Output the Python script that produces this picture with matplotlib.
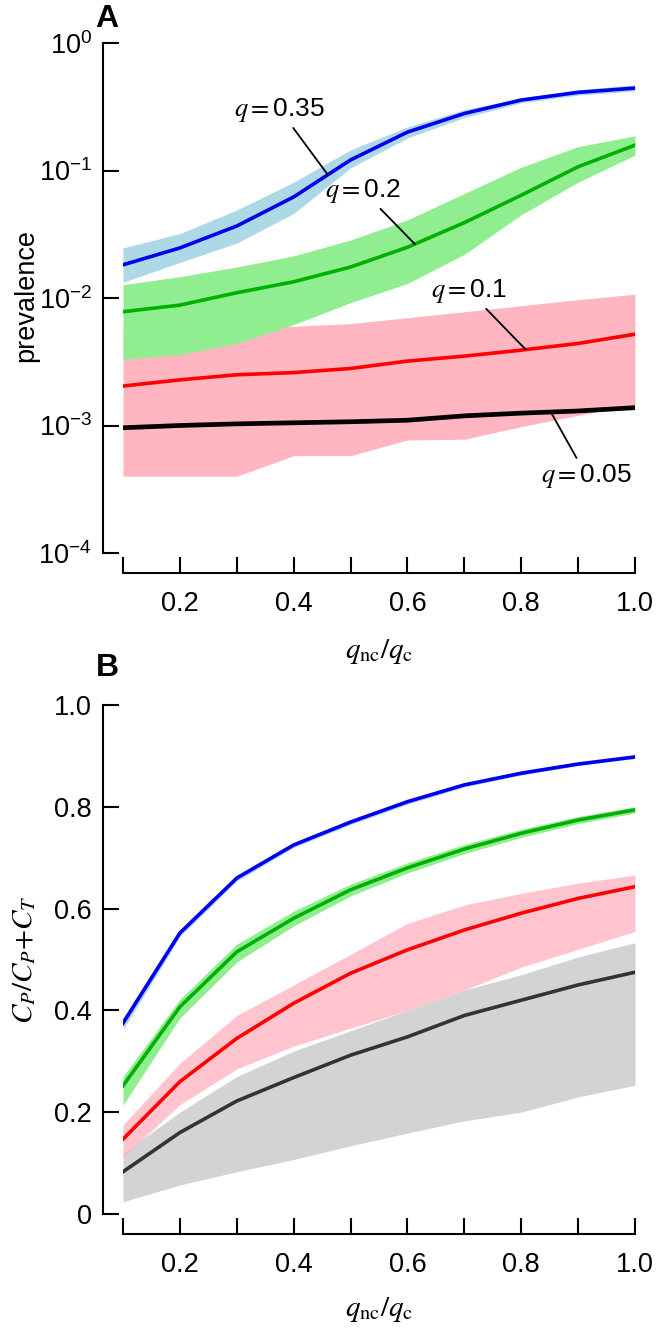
import numpy as np
import matplotlib
matplotlib.use('Agg')
import matplotlib.pyplot as plt
from matplotlib.ticker import FixedLocator, NullLocator

# x values: q_nc / q_c
ratio = [0.1, 0.2, 0.3, 0.4, 0.5, 0.6, 0.7, 0.8, 0.9, 1.0]

# panel A: prevalence (median and band) for each q
prev_035 = [0.0182, 0.0247, 0.0367, 0.062, 0.121, 0.20, 0.28, 0.357, 0.41, 0.443]
prev_035_lo = [0.0133, 0.019, 0.027, 0.046, 0.105, 0.18, 0.26, 0.34, 0.39, 0.42]
prev_035_hi = [0.0247, 0.032, 0.049, 0.081, 0.145, 0.22, 0.30, 0.37, 0.43, 0.47]

prev_02 = [0.0078, 0.0088, 0.011, 0.0134, 0.0175, 0.025, 0.039, 0.064, 0.107, 0.158]
prev_02_lo = [0.0033, 0.0036, 0.0044, 0.0062, 0.0092, 0.013, 0.022, 0.045, 0.081, 0.132]
prev_02_hi = [0.0127, 0.0147, 0.0175, 0.0214, 0.0285, 0.041, 0.066, 0.106, 0.154, 0.187]

prev_01 = [0.00204, 0.00228, 0.0025, 0.0026, 0.0028, 0.0032, 0.0035, 0.0039, 0.0044, 0.0052]
prev_01_lo = [0.0004, 0.0004, 0.0004, 0.00058, 0.00058, 0.00077, 0.00078, 0.00098, 0.0012, 0.00145]
prev_01_hi = [0.0055, 0.0056, 0.0058, 0.006, 0.0063, 0.007, 0.0078, 0.0087, 0.0097, 0.0107]

prev_005 = [0.00096, 0.001, 0.00103, 0.00105, 0.00107, 0.0011, 0.00119, 0.00125, 0.0013, 0.00138]

# panel B: C_P / (C_P + C_T)
cp_035 = [0.375, 0.552, 0.66, 0.725, 0.77, 0.81, 0.843, 0.866, 0.884, 0.898]
cp_035_lo = [0.362, 0.545, 0.654, 0.72, 0.765, 0.805, 0.839, 0.862, 0.881, 0.895]
cp_035_hi = [0.385, 0.558, 0.665, 0.73, 0.775, 0.814, 0.847, 0.869, 0.887, 0.901]

cp_02 = [0.252, 0.407, 0.515, 0.581, 0.637, 0.68, 0.717, 0.748, 0.774, 0.794]
cp_02_lo = [0.214, 0.385, 0.495, 0.566, 0.625, 0.67, 0.708, 0.74, 0.767, 0.788]
cp_02_hi = [0.27, 0.422, 0.53, 0.595, 0.648, 0.69, 0.726, 0.756, 0.781, 0.80]

cp_01 = [0.147, 0.26, 0.345, 0.414, 0.473, 0.519, 0.558, 0.591, 0.62, 0.643]
cp_01_lo = [0.112, 0.215, 0.285, 0.33, 0.365, 0.40, 0.44, 0.485, 0.52, 0.555]
cp_01_hi = [0.175, 0.296, 0.39, 0.45, 0.51, 0.571, 0.607, 0.63, 0.65, 0.666]

cp_005 = [0.083, 0.16, 0.222, 0.268, 0.312, 0.348, 0.39, 0.42, 0.45, 0.475]
cp_005_lo = [0.024, 0.057, 0.083, 0.107, 0.134, 0.159, 0.183, 0.2, 0.23, 0.253]
cp_005_hi = [0.12, 0.2, 0.27, 0.32, 0.36, 0.40, 0.44, 0.47, 0.505, 0.533]

xtick_labels = ['', '0.2', '', '0.4', '', '0.6', '', '0.8', '', '1.0']
ytick_a = [1e-4, 1e-3, 1e-2, 1e-1, 1]
ytick_a_labels = ['$10^{-4}$', '$10^{-3}$', '$10^{-2}$', '$10^{-1}$', '$10^{0}$']
ytick_b = [0, 0.2, 0.4, 0.6, 0.8, 1.0]
ytick_b_labels = ['0', '0.2', '0.4', '0.6', '0.8', '1.0']

plt.rcParams['font.family'] = ['Liberation Sans', 'DejaVu Sans']
plt.rcParams['mathtext.fontset'] = 'custom'
plt.rcParams['mathtext.rm'] = 'Liberation Sans'
plt.rcParams['mathtext.it'] = 'Liberation Sans:italic'
plt.rcParams['mathtext.bf'] = 'Liberation Sans:bold'

W, H = 658, 1334
FS = 19.5


def style_axes(ax):
    for s in ['top', 'right']:
        ax.spines[s].set_visible(False)
    for s in ['left', 'bottom']:
        ax.spines[s].set_position(('outward', 14.4))
        ax.spines[s].set_linewidth(1.5)
    ax.tick_params(axis='y', direction='in', length=11.5, width=1.5, pad=8, labelsize=FS)
    ax.tick_params(axis='x', direction='in', length=11.5, width=1.5, pad=13, labelsize=FS)
    ax.set_xlim(0.1, 1.0)
    ax.xaxis.set_major_locator(FixedLocator(ratio))
    ax.set_xticklabels(xtick_labels)


def on_curve(xs, ys, x0):
    return 10 ** np.interp(x0, xs, np.log10(ys))


def main():
    fig = plt.figure(figsize=(W / 100, H / 100), dpi=100)

    # ---- panel A
    ax = fig.add_axes([123 / W, 1 - 553 / H, 512 / W, 510 / H])
    ax.fill_between(ratio, prev_01_lo, prev_01_hi, color='#ffb6c1', lw=0)
    ax.fill_between(ratio, prev_02_lo, prev_02_hi, color='#90ee90', lw=0)
    ax.fill_between(ratio, prev_035_lo, prev_035_hi, color='#add8e6', lw=0)
    ax.plot(ratio, prev_035, color='#0000ee', lw=2.6)
    ax.plot(ratio, prev_02, color='#00b000', lw=2.6)
    ax.plot(ratio, prev_01, color='#ff0000', lw=2.6)
    ax.plot(ratio, prev_005, color='black', lw=3.4)
    ax.set_yscale('log')
    ax.set_ylim(1e-4, 1)
    style_axes(ax)
    ax.yaxis.set_major_locator(FixedLocator(ytick_a))
    ax.yaxis.set_minor_locator(NullLocator())
    ax.set_yticklabels(ytick_a_labels)

    arrow = dict(arrowstyle='-', color='black', lw=1.3, shrinkA=1, shrinkB=0)
    ax.annotate('$q{=}$0.35', xy=(0.46, on_curve(ratio, prev_035, 0.46)), xytext=(0.376, 0.298),
                ha='center', va='center', fontsize=19, math_fontfamily='stix', arrowprops=arrow)
    ax.annotate('$q{=}$0.2', xy=(0.613, on_curve(ratio, prev_02, 0.613)), xytext=(0.522, 0.069),
                ha='center', va='center', fontsize=19, math_fontfamily='stix', arrowprops=arrow)
    ax.annotate('$q{=}$0.1', xy=(0.808, on_curve(ratio, prev_01, 0.808)), xytext=(0.708, 0.01135),
                ha='center', va='center', fontsize=19, math_fontfamily='stix', arrowprops=arrow)
    ax.annotate('$q{=}$0.05', xy=(0.852, on_curve(ratio, prev_005, 0.852)), xytext=(0.915, 0.000402),
                ha='center', va='center', fontsize=19, math_fontfamily='stix', arrowprops=arrow)

    # ---- panel B
    bx = fig.add_axes([123 / W, 1 - 1214 / H, 512 / W, 509 / H])
    bx.fill_between(ratio, cp_005_lo, cp_005_hi, color='#d3d3d3', lw=0)
    bx.fill_between(ratio, cp_01_lo, cp_01_hi, color='#ffb6c1', lw=0, alpha=0.8)
    bx.fill_between(ratio, cp_02_lo, cp_02_hi, color='#90ee90', lw=0)
    bx.fill_between(ratio, cp_035_lo, cp_035_hi, color='#add8e6', lw=0)
    bx.plot(ratio, cp_035, color='#0000ee', lw=2.6)
    bx.plot(ratio, cp_02, color='#00b000', lw=2.6)
    bx.plot(ratio, cp_01, color='#ff0000', lw=2.6)
    bx.plot(ratio, cp_005, color='#333333', lw=2.6)
    bx.set_ylim(0, 1.0)
    style_axes(bx)
    bx.yaxis.set_major_locator(FixedLocator(ytick_b))
    bx.set_yticklabels(ytick_b_labels)

    # labels
    fig.text(107 / W, 1 - 19 / H, 'A', fontsize=23, fontweight='bold', ha='center', va='center')
    fig.text(107 / W, 1 - 668 / H, 'B', fontsize=23, fontweight='bold', ha='center', va='center')
    fig.text(26 / W, 1 - 296 / H, 'prevalence', fontsize=FS, rotation=90, ha='center', va='center')
    fig.text(379 / W, 1 - 652 / H, r'$q_{\mathrm{nc}}/q_{\mathrm{c}}$', fontsize=21,
             ha='center', va='center', math_fontfamily='stix')
    fig.text(379 / W, 1 - 1310 / H, r'$q_{\mathrm{nc}}/q_{\mathrm{c}}$', fontsize=21,
             ha='center', va='center', math_fontfamily='stix')
    fig.text(24 / W, 1 - 960 / H, r'$C_P/C_P{+}C_T$', fontsize=21, rotation=90,
             ha='center', va='center', math_fontfamily='stix')

    fig.savefig('out.png', dpi=100)


if __name__ == '__main__':
    main()
